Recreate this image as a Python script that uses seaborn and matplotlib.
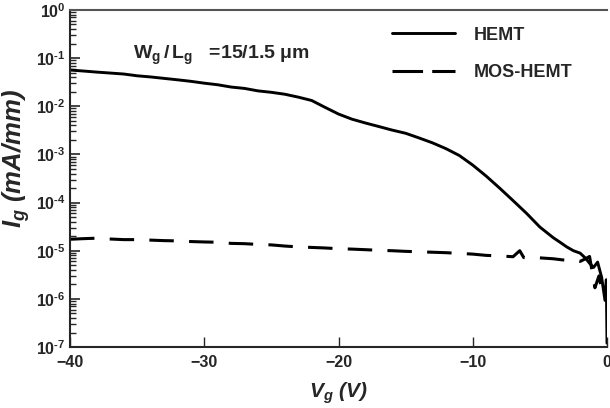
import numpy as np
import pandas as pd
import seaborn as sns
import matplotlib.pyplot as plt
from matplotlib.lines import Line2D
from matplotlib.ticker import LogLocator, FuncFormatter

# gate voltage (V) and gate leakage current (mA/mm)
hemt_vg = [-40, -39, -38, -37, -36, -35, -34, -33, -32, -31, -30, -29, -28, -27,
           -26, -25, -24, -23, -22, -21, -20, -19, -18, -17, -16, -15, -14, -13,
           -12, -11, -10, -9, -8, -7, -6, -5, -4, -3.5, -3, -2.5, -2, -1.6, -1.3,
           -1.0, -0.7, -0.4, -0.15, -0.05, 0.0]
hemt_ig = [5.66e-2, 5.4e-2, 5.13e-2, 4.9e-2, 4.68e-2, 4.3e-2, 4.07e-2, 3.8e-2,
           3.55e-2, 3.3e-2, 3.02e-2, 2.8e-2, 2.51e-2, 2.35e-2, 2.09e-2, 1.95e-2,
           1.78e-2, 1.55e-2, 1.32e-2, 9.5e-3, 6.9e-3, 5.4e-3, 4.5e-3, 3.8e-3,
           3.2e-3, 2.75e-3, 2.2e-3, 1.74e-3, 1.32e-3, 9.5e-4, 6.0e-4, 3.55e-4,
           2.0e-4, 1.1e-4, 6.0e-5, 3.1e-5, 1.86e-5, 1.5e-5, 1.2e-5, 1.0e-5,
           8.9e-6, 7.0e-6, 5.5e-6, 4.5e-6, 5.8e-6, 2.8e-6, 9.3e-7, 2.5e-6, 1.2e-7]

mos_vg = [-40, -39, -38, -37, -36, -35, -34, -33, -32, -31, -30, -29, -28, -27,
          -26, -25, -24, -23, -22, -21, -20, -19, -18, -17, -16, -15, -14, -13,
          -12, -11, -10, -9, -8, -7, -6.5, -6.2, -5, -4, -3, -2.5, -2, -1.6,
          -1.3, -0.9, -0.6, -0.3]
mos_ig = [1.73e-5, 1.78e-5, 1.82e-5, 1.75e-5, 1.7e-5, 1.7e-5, 1.66e-5, 1.62e-5,
          1.6e-5, 1.55e-5, 1.52e-5, 1.5e-5, 1.42e-5, 1.4e-5, 1.35e-5, 1.32e-5,
          1.25e-5, 1.2e-5, 1.17e-5, 1.14e-5, 1.1e-5, 1.08e-5, 1.05e-5, 1.02e-5,
          1.0e-5, 9.7e-6, 9.5e-6, 9.3e-6, 9.1e-6, 8.8e-6, 8.5e-6, 8.0e-6,
          7.8e-6, 7.5e-6, 1.0e-5, 7.2e-6, 7.1e-6, 6.8e-6, 6.3e-6, 6.5e-6,
          6.0e-6, 6.8e-6, 7.6e-6, 1.7e-6, 3.0e-6, 1.1e-6]

hemt = pd.DataFrame({"Vg": hemt_vg, "Ig": hemt_ig})
mos = pd.DataFrame({"Vg": mos_vg, "Ig": mos_ig})

sns.set_style("ticks")
plt.rcParams["font.family"] = ["Liberation Sans", "DejaVu Sans"]
plt.rcParams["font.weight"] = "bold"
plt.rcParams["mathtext.fontset"] = "custom"
plt.rcParams["mathtext.rm"] = "Liberation Sans:bold"
plt.rcParams["mathtext.bf"] = "Liberation Sans:bold"
plt.rcParams["mathtext.it"] = "Liberation Sans:bold:italic"

fig = plt.figure(figsize=(6.1, 4.08), dpi=100)
ax = fig.add_axes([70 / 610, 61 / 408, 537 / 610, 337 / 408])

sns.lineplot(data=hemt, x="Vg", y="Ig", ax=ax, color="black", lw=2.1,
             sort=False, estimator=None)
sns.lineplot(data=mos, x="Vg", y="Ig", ax=ax, color="black", lw=2.2,
             sort=False, estimator=None, linestyle=(0, (8, 5)))

ax.set_yscale("log")
ax.set_ylim(1e-7, 1)
ax.set_xlim(-40, 0)
ax.set_xticks([-40, -30, -20, -10, 0])
ax.set_yticks([10.0 ** k for k in range(-7, 1)])
ax.yaxis.set_minor_locator(LogLocator(base=10, subs=np.arange(2, 10), numticks=100))


def decade_label(v, pos):
    k = int(round(np.log10(v)))
    if k == 0:
        return r"$\mathdefault{10^{0}}$"
    return r"$\mathdefault{10^{\text{-}%d}}$" % (-k)


ax.yaxis.set_major_formatter(FuncFormatter(decade_label))

ax.tick_params(axis="both", which="both", direction="in", labelsize=11.5,
               top=False, right=False)
ax.tick_params(axis="y", which="major", length=7, width=1.2, pad=3)
ax.tick_params(axis="y", which="minor", length=4, width=1.0)
ax.tick_params(axis="x", which="major", length=7, width=1.0, pad=6)
ax.tick_params(axis="x", which="minor", bottom=False)
for lab in ax.get_xticklabels() + ax.get_yticklabels():
    lab.set_fontweight("bold")

ax.spines["right"].set_visible(False)
ax.spines["top"].set_color("#555555")
ax.spines["top"].set_linewidth(1.5)
ax.spines["left"].set_linewidth(1.5)
ax.spines["bottom"].set_linewidth(1.5)

ax.set_xlabel(r"$\mathdefault{V_g}$ (V)", fontsize=15, fontweight="bold",
              fontstyle="italic", labelpad=7)
ax.set_ylabel(r"$\mathdefault{I_g}$ (mA/mm)", fontsize=18.5, fontweight="bold",
              fontstyle="italic")
ax.yaxis.set_label_coords(-0.07, 0.56)

ax.text(0.117, 0.865, r"$\mathdefault{W_g\,/\,L_g}$   =15/1.5 μm",
        transform=ax.transAxes, fontsize=14, fontweight="bold", va="center")

handles = [Line2D([], [], color="black", lw=2.1),
           Line2D([], [], color="black", lw=2.2, linestyle=(0, (10, 3)))]
ax.legend(handles, ["HEMT", "MOS-HEMT"], loc="upper left",
          bbox_to_anchor=(0.6, 0.951), frameon=False, borderpad=0,
          borderaxespad=0, handlelength=3.5, handletextpad=1.0,
          labelspacing=1.15, prop={"size": 13, "weight": "bold"})

fig.savefig("out.png", dpi=100)
